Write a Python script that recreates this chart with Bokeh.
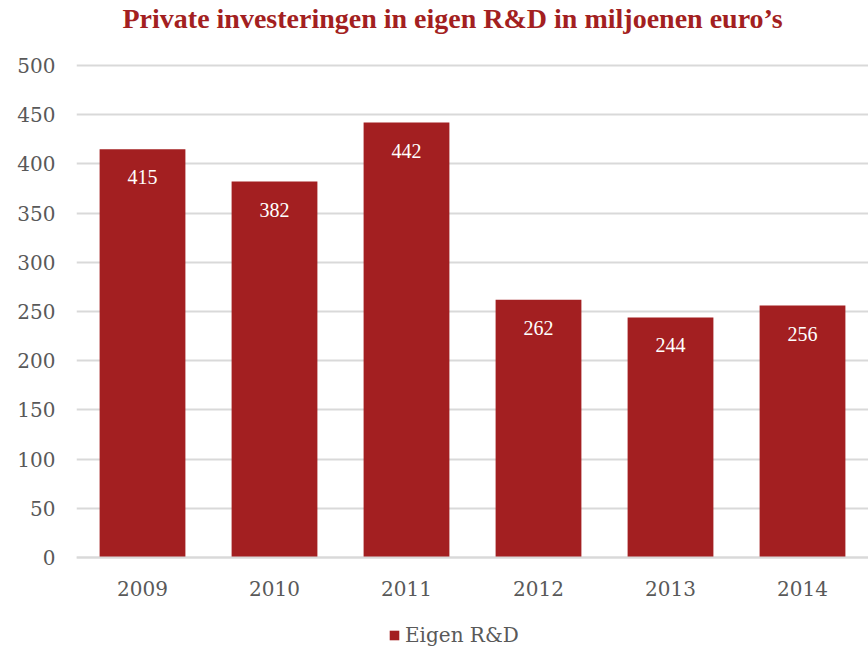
from bokeh.plotting import figure
from bokeh.models import ColumnDataSource, LabelSet, Label, Legend, LegendItem, FixedTicker
from bokeh.embed import file_html
from bokeh.resources import INLINE

years = ["2009", "2010", "2011", "2012", "2013", "2014"]
values = [415, 382, 442, 262, 244, 256]
y_ticks = [0, 50, 100, 150, 200, 250, 300, 350, 400, 450, 500]
series_name = "Eigen R&D"
title_text = "Private investeringen in eigen R&D in miljoenen euro\u2019s"

BAR = "#A31F21"
GRAY = "#595959"
SERIF = "DejaVu Serif"

# layout in pixels: frame covers full height; value 0 at y=557, 500 at y=65
W, H = 868, 647
LEFT = 76
ZERO_PX, MAX_PX = 557, 65
ppu = (ZERO_PX - MAX_PX) / 500.0
y_start = -(H - ZERO_PX) / ppu
y_end = 500 + MAX_PX / ppu

src = ColumnDataSource(dict(x=years, y=values, lbl=[str(v) for v in values]))

p = figure(x_range=years, y_range=(y_start, y_end), width=W, height=H,
           output_backend="svg", toolbar_location=None,
           min_border_left=LEFT, min_border_right=0, min_border_top=0, min_border_bottom=0)
p.outline_line_color = None

title = Label(x=122 - LEFT, y=H - 18, x_units="screen", y_units="screen", text=title_text,
              text_font="Liberation Serif", text_font_size="28px", text_font_style="bold",
              text_color="#A31F21", text_align="left", text_baseline="alphabetic")
p.add_layout(title)

r = p.vbar(x="x", top="y", bottom=0, width=0.65, source=src, fill_color=BAR, line_color=None)

labels = LabelSet(x="x", y="y", text="lbl", source=src, text_color="white",
                  text_font=SERIF, text_font_size="20px", text_align="center",
                  text_baseline="middle", y_offset=-28)
p.add_layout(labels)

p.yaxis.ticker = FixedTicker(ticks=y_ticks)
p.yaxis.axis_line_color = None
p.yaxis.major_tick_line_color = None
p.yaxis.minor_tick_line_color = None
p.yaxis.major_label_standoff = 15
p.yaxis.major_label_text_font = SERIF
p.yaxis.major_label_text_font_size = "20px"
p.yaxis.major_label_text_color = GRAY

p.xaxis.fixed_location = 0
p.xaxis.axis_line_color = "#D9D9D9"
p.xaxis.axis_line_width = 2
p.xaxis.major_tick_line_color = None
p.xaxis.minor_tick_line_color = None
p.xaxis.major_label_standoff = 17
p.xaxis.major_label_text_font = SERIF
p.xaxis.major_label_text_font_size = "20px"
p.xaxis.major_label_text_color = GRAY

p.xgrid.grid_line_color = None
p.ygrid.grid_line_color = "#D9D9D9"
p.ygrid.grid_line_width = 2

legend = Legend(items=[LegendItem(label=series_name, renderers=[r])], location=(312, 0),
                orientation="horizontal", label_text_font=SERIF, label_text_font_size="20px",
                label_text_color=GRAY, glyph_width=12, glyph_height=12, label_standoff=5,
                border_line_color=None, background_fill_alpha=0, padding=0, margin=0)
p.add_layout(legend)

open("out.html", "w").write(file_html(p, INLINE))
